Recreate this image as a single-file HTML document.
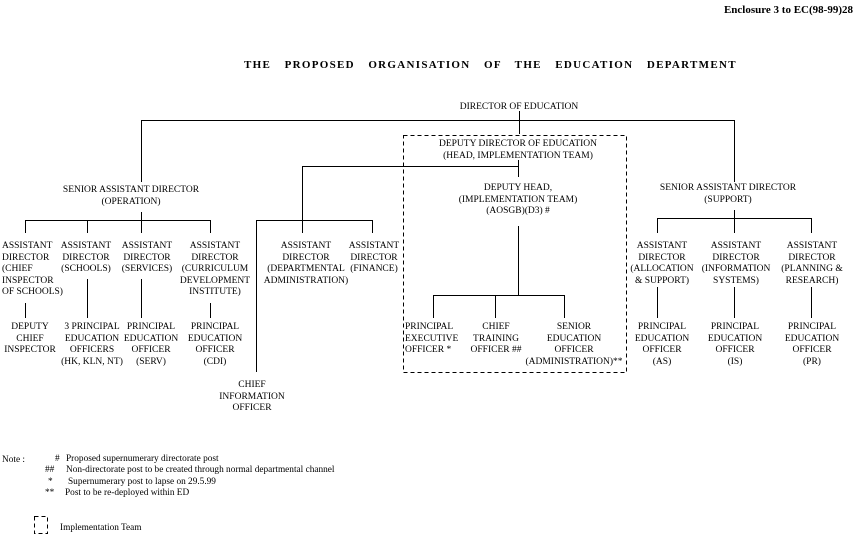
<!DOCTYPE html>
<html><head><meta charset="utf-8"><style>
body{margin:0;width:857px;height:536px;background:#fff;position:relative;overflow:hidden;font-family:"Liberation Serif",serif;color:#000}
.t{position:absolute;font-size:9.5px;line-height:11.5px;white-space:pre;text-align:center;transform:translateX(-50%)}
.l{position:absolute;font-size:9.3px;line-height:10px;white-space:pre}
svg{position:absolute;left:0;top:0}
</style></head><body>
<svg width="857" height="536" stroke="#000" stroke-width="1" fill="none" shape-rendering="crispEdges">
<path d="M519.5 111V134M141.5 120.5H734.5M141.5 120V182M734.5 120V182"/>
<path d="M518.5 160V177M302.5 166.5H518.5M302.5 166V233M518.5 226V296M433.5 295.5H564.5M433.5 295V318M495.5 295V318M564.5 295V318"/>
<path d="M141.5 212V220M25.5 220.5H210.5M25.5 220V233M87.5 220V233M141.5 220V233M210.5 220V233"/>
<path d="M25.5 303V318M87.5 279V318M141.5 279V318M210.5 303V318"/>
<path d="M256.5 220.5H372.5M372.5 220V233M256.5 220V372"/>
<path d="M734.5 210V219M657.5 218.5H811.5M657.5 218V233M734.5 218V233M811.5 218V233M657.5 287V318M734.5 287V318M811.5 287V318"/>
<rect x="403.5" y="135.5" width="223" height="237" stroke-dasharray="4,3"/>
<rect x="34.5" y="516.5" width="13" height="17" stroke-dasharray="4,3"/>
</svg>
<div class="l" style="right:4px;top:5px;font-size:11px;font-weight:bold">Enclosure 3 to EC(98-99)28</div>
<div class="l" style="left:244px;top:60px;font-size:11px;font-weight:bold;word-spacing:9.4px;letter-spacing:1.3px">THE PROPOSED ORGANISATION OF THE EDUCATION DEPARTMENT</div>
<div class="t" style="left:519px;top:102px">DIRECTOR OF EDUCATION</div>
<div class="t" style="left:518px;top:139px">DEPUTY DIRECTOR OF EDUCATION
(HEAD, IMPLEMENTATION TEAM)</div>
<div class="t" style="left:518px;top:183px">DEPUTY HEAD,
(IMPLEMENTATION TEAM)
(AOSGB)(D3) #</div>
<div class="t" style="left:131px;top:185px">SENIOR ASSISTANT DIRECTOR
(OPERATION)</div>
<div class="t" style="left:728px;top:183px">SENIOR ASSISTANT DIRECTOR
(SUPPORT)</div>
<div class="t" style="left:2px;top:241px;transform:none;text-align:left">ASSISTANT
DIRECTOR
(CHIEF
INSPECTOR
OF SCHOOLS)</div>
<div class="t" style="left:86px;top:241px">ASSISTANT
DIRECTOR
(SCHOOLS)</div>
<div class="t" style="left:147px;top:241px">ASSISTANT
DIRECTOR
(SERVICES)</div>
<div class="t" style="left:215px;top:241px">ASSISTANT
DIRECTOR
(CURRICULUM
DEVELOPMENT
INSTITUTE)</div>
<div class="t" style="left:306px;top:241px">ASSISTANT
DIRECTOR
(DEPARTMENTAL
ADMINISTRATION)</div>
<div class="t" style="left:374px;top:241px">ASSISTANT
DIRECTOR
(FINANCE)</div>
<div class="t" style="left:662px;top:241px">ASSISTANT
DIRECTOR
(ALLOCATION
&amp; SUPPORT)</div>
<div class="t" style="left:736px;top:241px">ASSISTANT
DIRECTOR
(INFORMATION
SYSTEMS)</div>
<div class="t" style="left:812px;top:241px">ASSISTANT
DIRECTOR
(PLANNING &amp;
RESEARCH)</div>
<div class="t" style="left:30px;top:322px">DEPUTY
CHIEF
INSPECTOR</div>
<div class="t" style="left:92px;top:322px">3 PRINCIPAL
EDUCATION
OFFICERS
(HK, KLN, NT)</div>
<div class="t" style="left:151px;top:322px">PRINCIPAL
EDUCATION
OFFICER
(SERV)</div>
<div class="t" style="left:215px;top:322px">PRINCIPAL
EDUCATION
OFFICER
(CDI)</div>
<div class="t" style="left:405px;top:322px;transform:none;text-align:left">PRINCIPAL
EXECUTIVE
OFFICER *</div>
<div class="t" style="left:496px;top:322px">CHIEF
TRAINING
OFFICER ##</div>
<div class="t" style="left:574px;top:322px">SENIOR
EDUCATION
OFFICER
(ADMINISTRATION)**</div>
<div class="t" style="left:662px;top:322px">PRINCIPAL
EDUCATION
OFFICER
(AS)</div>
<div class="t" style="left:735px;top:322px">PRINCIPAL
EDUCATION
OFFICER
(IS)</div>
<div class="t" style="left:812px;top:322px">PRINCIPAL
EDUCATION
OFFICER
(PR)</div>
<div class="t" style="left:252px;top:380px">CHIEF
INFORMATION
OFFICER</div>
<div class="l" style="left:2px;top:455px">Note :</div>
<div class="l" style="left:55px;top:454px">#</div>
<div class="l" style="left:66px;top:454px">Proposed supernumerary directorate post</div>
<div class="l" style="left:45px;top:465px">##</div>
<div class="l" style="left:66px;top:465px">Non-directorate post to be created through normal departmental channel</div>
<div class="l" style="left:48px;top:477px">*</div>
<div class="l" style="left:68px;top:477px">Supernumerary post to lapse on 29.5.99</div>
<div class="l" style="left:45px;top:488px">**</div>
<div class="l" style="left:65px;top:488px">Post to be re-deployed within ED</div>
<div class="l" style="left:60px;top:523px">Implementation Team</div>
</body></html>
